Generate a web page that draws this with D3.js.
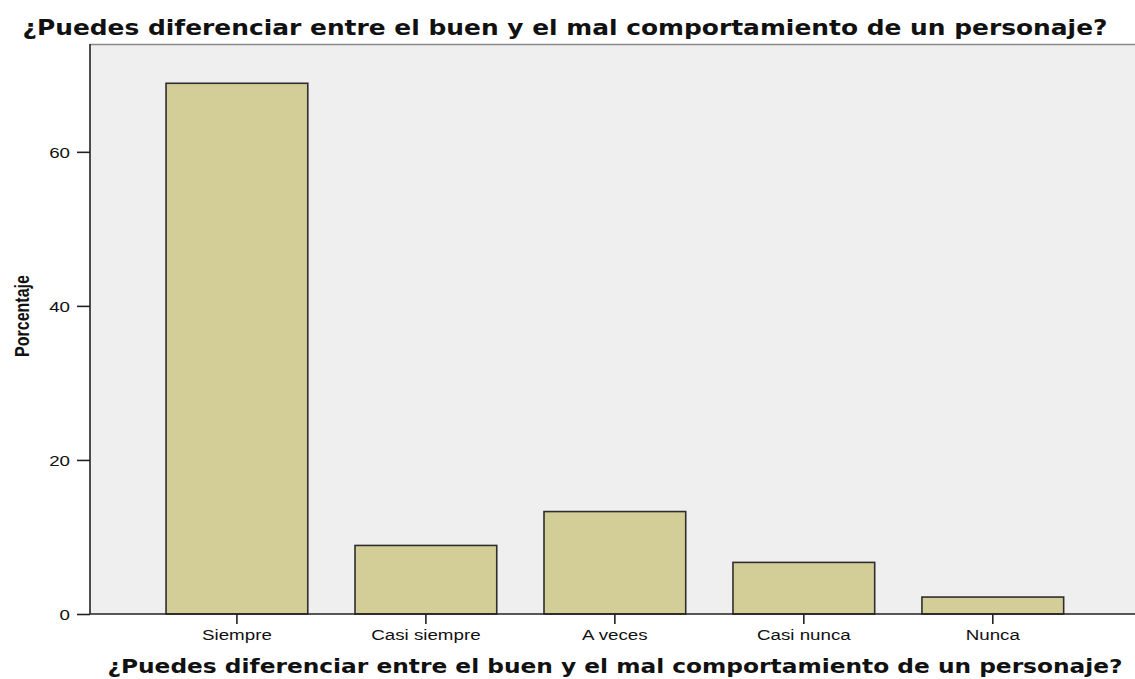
<!DOCTYPE html>
<html>
<head>
<meta charset="utf-8">
<script src="https://cdn.jsdelivr.net/npm/d3@7"></script>
<style>
  body { margin: 0; background: #fff; }
  svg { display: block; font-family: 'Liberation Sans', Arial, sans-serif; }
</style>
</head>
<body>
<svg id="chart"></svg>
<script>
const categories = ['Siempre', 'Casi siempre', 'A veces', 'Casi nunca', 'Nunca']
const percentages = [68.9, 8.9, 13.3, 6.7, 2.2]
const yTicks = [0, 20, 40, 60]
const titleText = '¿Puedes diferenciar entre el buen y el mal comportamiento de un personaje?'
const yLabel = 'Porcentaje'

const WIDTH = 1135
const HEIGHT = 679
const PLOT = { left: 90, right: 1135, top: 44, bottom: 614 }
const SX = 1.25 // the reference is stretched sideways, so text is too

const svg = d3.select('#chart')
  .attr('width', WIDTH)
  .attr('height', HEIGHT)

const xScale = d3.scaleBand()
  .domain(categories)
  .range([PLOT.left, PLOT.right])
  .paddingInner(0.25)
  .paddingOuter(0.39)
  .align(0.516)

const yScale = d3.scaleLinear()
  .domain([0, 74])
  .range([PLOT.bottom, PLOT.top])

// plot background
svg.append('rect')
  .attr('x', PLOT.left)
  .attr('y', PLOT.top)
  .attr('width', PLOT.right - PLOT.left)
  .attr('height', PLOT.bottom - PLOT.top)
  .attr('fill', '#efefef')

svg.append('line')
  .attr('x1', PLOT.left).attr('x2', PLOT.right)
  .attr('y1', PLOT.top + 0.5).attr('y2', PLOT.top + 0.5)
  .attr('stroke', '#8a8a8a')
  .attr('stroke-width', 1.5)

// bars
svg.selectAll('rect.bar')
  .data(percentages)
  .enter()
  .append('rect')
  .attr('class', 'bar')
  .attr('x', (d, i) => xScale(categories[i]))
  .attr('y', d => yScale(d))
  .attr('width', xScale.bandwidth())
  .attr('height', d => yScale(0) - yScale(d))
  .attr('fill', '#d3ce97')
  .attr('stroke', '#2e2e2e')
  .attr('stroke-width', 1.6)

// axes
const yAxis = svg.append('g')
  .attr('transform', `translate(${PLOT.left}, 0)`)
  .call(d3.axisLeft(yScale).tickValues(yTicks).tickSize(13).tickPadding(3))

const xAxis = svg.append('g')
  .attr('transform', `translate(0, ${PLOT.bottom})`)
  .call(d3.axisBottom(xScale).tickSize(10).tickPadding(5).tickSizeOuter(0))

;[xAxis, yAxis].forEach(g => {
  g.select('.domain').attr('stroke', '#222').attr('stroke-width', 1.6)
  g.selectAll('.tick line').attr('stroke', '#222').attr('stroke-width', 1.6)
  g.selectAll('.tick text')
    .attr('font-family', "'Liberation Sans', Arial, sans-serif")
    .attr('font-size', 15)
    .attr('fill', '#111')
    .attr('transform', `scale(${SX},1)`)
})
yAxis.select('.domain').attr('d', `M0,${PLOT.top}V${PLOT.bottom}`)
xAxis.select('.domain').attr('d', `M${PLOT.left},0H${PLOT.right}`)
yAxis.selectAll('.tick text').attr('dy', '0.36em')

// titles, stretched to the width they take in the reference
function addTitle(cx, y, size, targetWidth) {
  const t = svg.append('text')
    .attr('text-anchor', 'middle')
    .attr('font-family', "'DejaVu Sans', Verdana, sans-serif")
    .attr('font-weight', 'bold')
    .attr('font-size', size)
    .attr('fill', '#111')
    .text(titleText)
  const sx = targetWidth / t.node().getComputedTextLength()
  t.attr('transform', `translate(${cx}, ${y}) scale(${sx},1)`)
}
addTitle(565, 35, 20.5, 1086)
addTitle(615, 673, 19, 1016)

svg.append('text')
  .attr('transform', `translate(29, 316) scale(${SX},1) rotate(-90)`)
  .attr('text-anchor', 'middle')
  .attr('font-weight', 'bold')
  .attr('font-size', 16)
  .attr('fill', '#111')
  .text(yLabel)
</script>
</body>
</html>
